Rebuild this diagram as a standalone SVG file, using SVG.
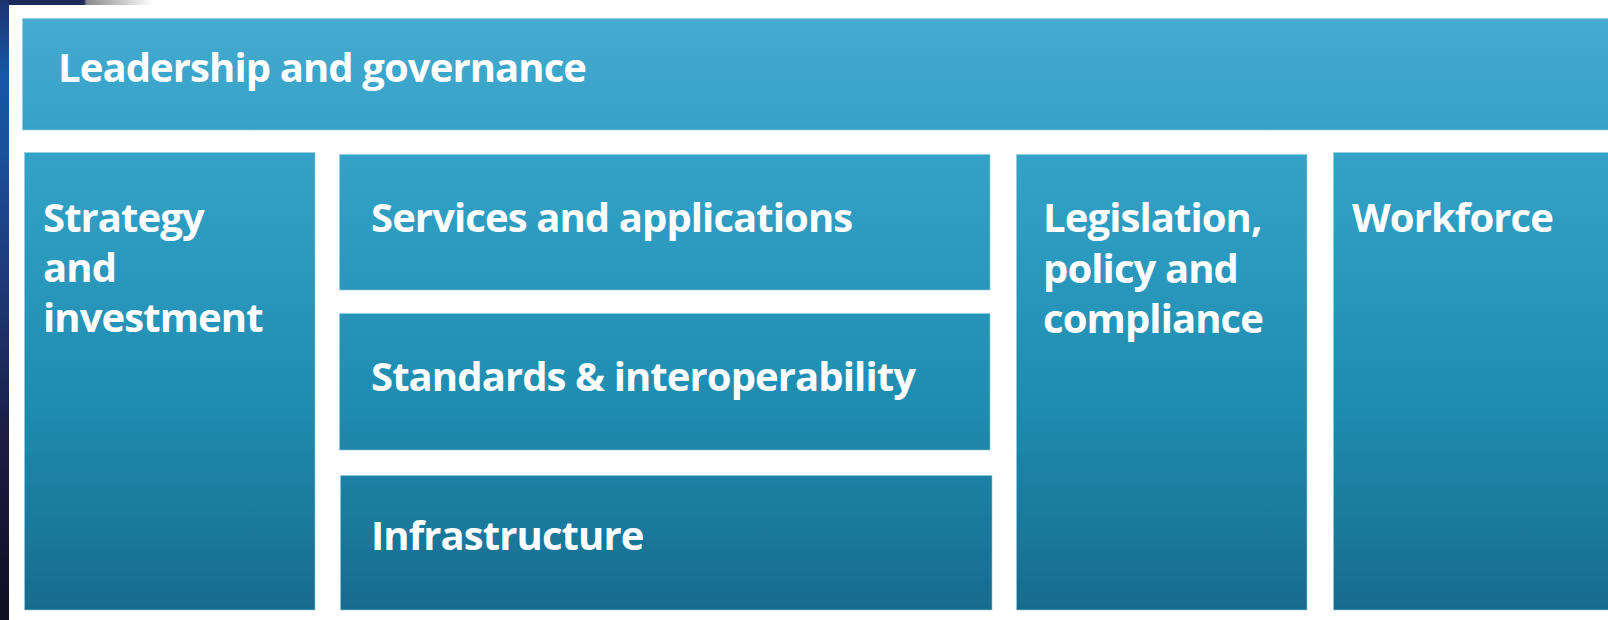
<svg xmlns="http://www.w3.org/2000/svg" width="1608" height="620" viewBox="0 0 1608 620">
  <defs>
    <linearGradient id="gTop" gradientUnits="userSpaceOnUse" x1="0" y1="18" x2="0" y2="130">
      <stop offset="0" stop-color="#45abd0"/>
      <stop offset="1" stop-color="#36a1c7"/>
    </linearGradient>
    <linearGradient id="gCol" gradientUnits="userSpaceOnUse" x1="0" y1="152" x2="0" y2="610">
      <stop offset="0" stop-color="#35a3c8"/>
      <stop offset="0.54" stop-color="#1f8db0"/>
      <stop offset="1" stop-color="#166c8f"/>
    </linearGradient>
    <linearGradient id="gLeft" x1="0" y1="0" x2="0" y2="1">
      <stop offset="0" stop-color="#1c3470"/>
      <stop offset="0.12" stop-color="#1757a6"/>
      <stop offset="0.25" stop-color="#1b4f9a"/>
      <stop offset="0.45" stop-color="#1e3a78"/>
      <stop offset="0.7" stop-color="#1b1d45"/>
      <stop offset="1" stop-color="#0e0f1f"/>
    </linearGradient>
    <linearGradient id="gStrip" gradientUnits="userSpaceOnUse" x1="0" y1="0" x2="1608" y2="0">
      <stop offset="0" stop-color="#1e2a5c"/>
      <stop offset="0.052" stop-color="#1e2a5c"/>
      <stop offset="0.054" stop-color="#8a8a8a"/>
      <stop offset="0.095" stop-color="#ffffff"/>
      <stop offset="1" stop-color="#ffffff"/>
    </linearGradient>
  </defs>
  <style>
    .box { stroke: #8fcbe0; stroke-opacity: 0.6; stroke-width: 1; }
    .top { fill: url(#gTop); }
    .col { fill: url(#gCol); }
    .lbl { font-family: "Open Sans", "Liberation Sans", sans-serif; font-weight: 700; font-size: 40px; fill: #ffffff; letter-spacing: -0.9px; }
  </style>
  <!-- background -->
  <rect x="0" y="0" width="1608" height="620" fill="#ffffff"/>
  <rect x="0" y="0" width="1608" height="5" fill="url(#gStrip)"/>
  <rect x="0" y="0" width="9" height="620" fill="url(#gLeft)"/>

  <g id="leadership">
    <rect class="box top" x="22.5" y="18.5" width="1590" height="111.5"/>
    <text class="lbl" x="58" y="82">Leadership and governance</text>
  </g>
  <g id="strategy">
    <rect class="box col" x="24.5" y="152.5" width="290.5" height="457.5"/>
    <text class="lbl" x="43" y="232">Strategy</text>
    <text class="lbl" x="43" y="282">and</text>
    <text class="lbl" x="43" y="332">investment</text>
  </g>
  <g id="services">
    <rect class="box col" x="339.5" y="154.5" width="650.5" height="135.5"/>
    <text class="lbl" x="371" y="232">Services and applications</text>
  </g>
  <g id="standards">
    <rect class="box col" x="339.5" y="313.5" width="650.5" height="136.5"/>
    <text class="lbl" x="371" y="391">Standards &amp; interoperability</text>
  </g>
  <g id="infrastructure">
    <rect class="box col" x="340.5" y="475.5" width="651.5" height="134.5"/>
    <text class="lbl" x="371" y="550">Infrastructure</text>
  </g>
  <g id="legislation">
    <rect class="box col" x="1016.5" y="154.5" width="290.5" height="455.5"/>
    <text class="lbl" x="1043" y="232">Legislation,</text>
    <text class="lbl" x="1043" y="283">policy and</text>
    <text class="lbl" x="1043" y="333">compliance</text>
  </g>
  <g id="workforce">
    <rect class="box col" x="1333.5" y="152.5" width="280" height="457.5"/>
    <text class="lbl" x="1352" y="232">Workforce</text>
  </g>
  <g id="connectors"/>
</svg>
